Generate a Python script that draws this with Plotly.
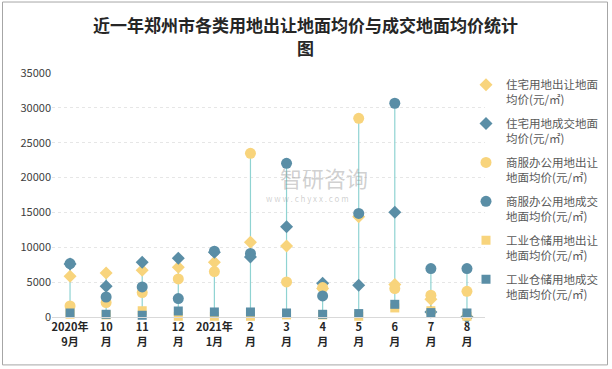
import plotly.graph_objects as go

categories = ["2020年<br>9月", "10<br>月", "11<br>月", "12<br>月", "2021年<br>1月", "2<br>月",
              "3<br>月", "4<br>月", "5<br>月", "6<br>月", "7<br>月", "8<br>月"]

res_sell = [5850, 6320, 6710, 7140, 7860, 10730, 10200, 4100, 14370, 4650, 2540, 50]
res_deal = [7600, 4410, 7860, 8430, 9300, 8620, 12930, 4850, 4550, 15040, 700, 0]
com_sell = [1580, 2070, 3500, 5460, 6520, 23480, 5030, 4220, 28500, 4080, 3120, 3690]
com_deal = [7670, 2870, 4310, 2640, 9440, 9110, 22040, 3020, 14860, 30660, 6950, 6950]
ind_sell = [400, 300, 900, 100, 100, 100, 300, 300, 100, 1300, 900, 100]
ind_deal = [575, 390, 250, 860, 720, 720, 575, 390, 490, 1820, 630, 575]

names = ["住宅用地出让地面<br>均价(元/㎡)", "住宅用地成交地面<br>均价(元/㎡)",
         "商服办公用地出让<br>地面均价(元/㎡)", "商服办公用地成交<br>地面均价(元/㎡)",
         "工业仓储用地出让<br>地面均价(元/㎡)", "工业仓储用地成交<br>地面均价(元/㎡)"]

title_lines = ["近一年郑州市各类用地出让地面均价与成交地面均价统计", "图"]

YELLOW = "#F8D47C"
DARK = "#5A8EA6"
LINE = "#8FD3D2"
FONT = "Noto Sans CJK SC"

series = [res_sell, res_deal, com_sell, com_deal, ind_sell, ind_deal]
styles = [("diamond", YELLOW, 10), ("diamond", DARK, 10), ("circle", YELLOW, 11),
          ("circle", DARK, 11), ("square", YELLOW, 9), ("square", DARK, 9)]

fig = go.Figure()

# high-low lines
hx, hy = [], []
for i, c in enumerate(categories):
    vals = [s[i] for s in series]
    hx += [c, c, None]
    hy += [min(vals), max(vals), None]
fig.add_trace(go.Scatter(x=hx, y=hy, mode="lines", line=dict(color=LINE, width=1.2),
                         showlegend=False, hoverinfo="skip", cliponaxis=False))

for k, (s, n, (sym, col, sz)) in enumerate(zip(series, names, styles)):
    fig.add_trace(go.Scatter(x=categories, y=s, name=n, mode="markers", legendgroup=f"g{k}",
                             marker=dict(symbol=sym, color=col, size=sz, line=dict(width=0)),
                             cliponaxis=False))

L, R, T, B = 52, 485, 73.3, 316.7
W, H = R - L, B - T

def px(x):
    return (x - L) / W

def py(y):
    return (B - y) / H

annotations = [
    dict(text=title_lines[0], xref="paper", yref="paper", x=px(305), y=py(25),
         xanchor="center", yanchor="middle", showarrow=False,
         font=dict(family=FONT, size=17, color="#262626", weight="bold")),
    dict(text=title_lines[1], xref="paper", yref="paper", x=px(305), y=py(48),
         xanchor="center", yanchor="middle", showarrow=False,
         font=dict(family=FONT, size=17, color="#262626", weight="bold")),
    dict(text="智研咨询", xref="paper", yref="paper", x=px(324), y=py(177),
         xanchor="center", yanchor="middle", showarrow=False,
         font=dict(family=FONT, size=22, color="rgba(150,150,150,0.45)")),
    dict(text="w w w . c h y x x . c o m", xref="paper", yref="paper", x=px(307), y=py(198),
         xanchor="center", yanchor="middle", showarrow=False,
         font=dict(family=FONT, size=8, color="rgba(150,150,150,0.45)")),
]

fig.update_layout(
    width=612, height=369,
    margin=dict(l=L, r=612 - R, t=T, b=369 - B, autoexpand=False),
    paper_bgcolor="white", plot_bgcolor="white",
    font=dict(family=FONT, size=11, color="#404040"),
    showlegend=True,
    legend=dict(x=px(466), y=py(71), xanchor="left", yanchor="top", valign="top",
                font=dict(family=FONT, size=11.5, color="#595959"),
                tracegroupgap=6, maxheight=330,
                bgcolor="rgba(0,0,0,0)"),
    xaxis=dict(type="category", categoryorder="array", categoryarray=categories,
               range=[-0.5, len(categories) - 0.5], showgrid=False, ticks="",
               tickfont=dict(family=FONT, size=11, color="#262626", weight="bold"),
               showline=True, linecolor="#D9D9D9", linewidth=1),
    yaxis=dict(range=[0, 35000], dtick=5000, tickformat="d",
               showgrid=True, gridcolor="#E6E6E6", griddash="dot", gridwidth=1,
               zeroline=False, ticks="", tickfont=dict(family=FONT, size=11, color="#404040")),
    shapes=[dict(type="rect", xref="paper", yref="paper",
                 x0=px(2.5), x1=px(607.5), y0=py(364.5), y1=py(2.5),
                 line=dict(color="#A6A6A6", width=1), fillcolor="rgba(0,0,0,0)", layer="below")],
    annotations=annotations,
)

fig.write_html("out.html", config={"displayModeBar": False},
               post_script="document.body.style.margin='0';")
